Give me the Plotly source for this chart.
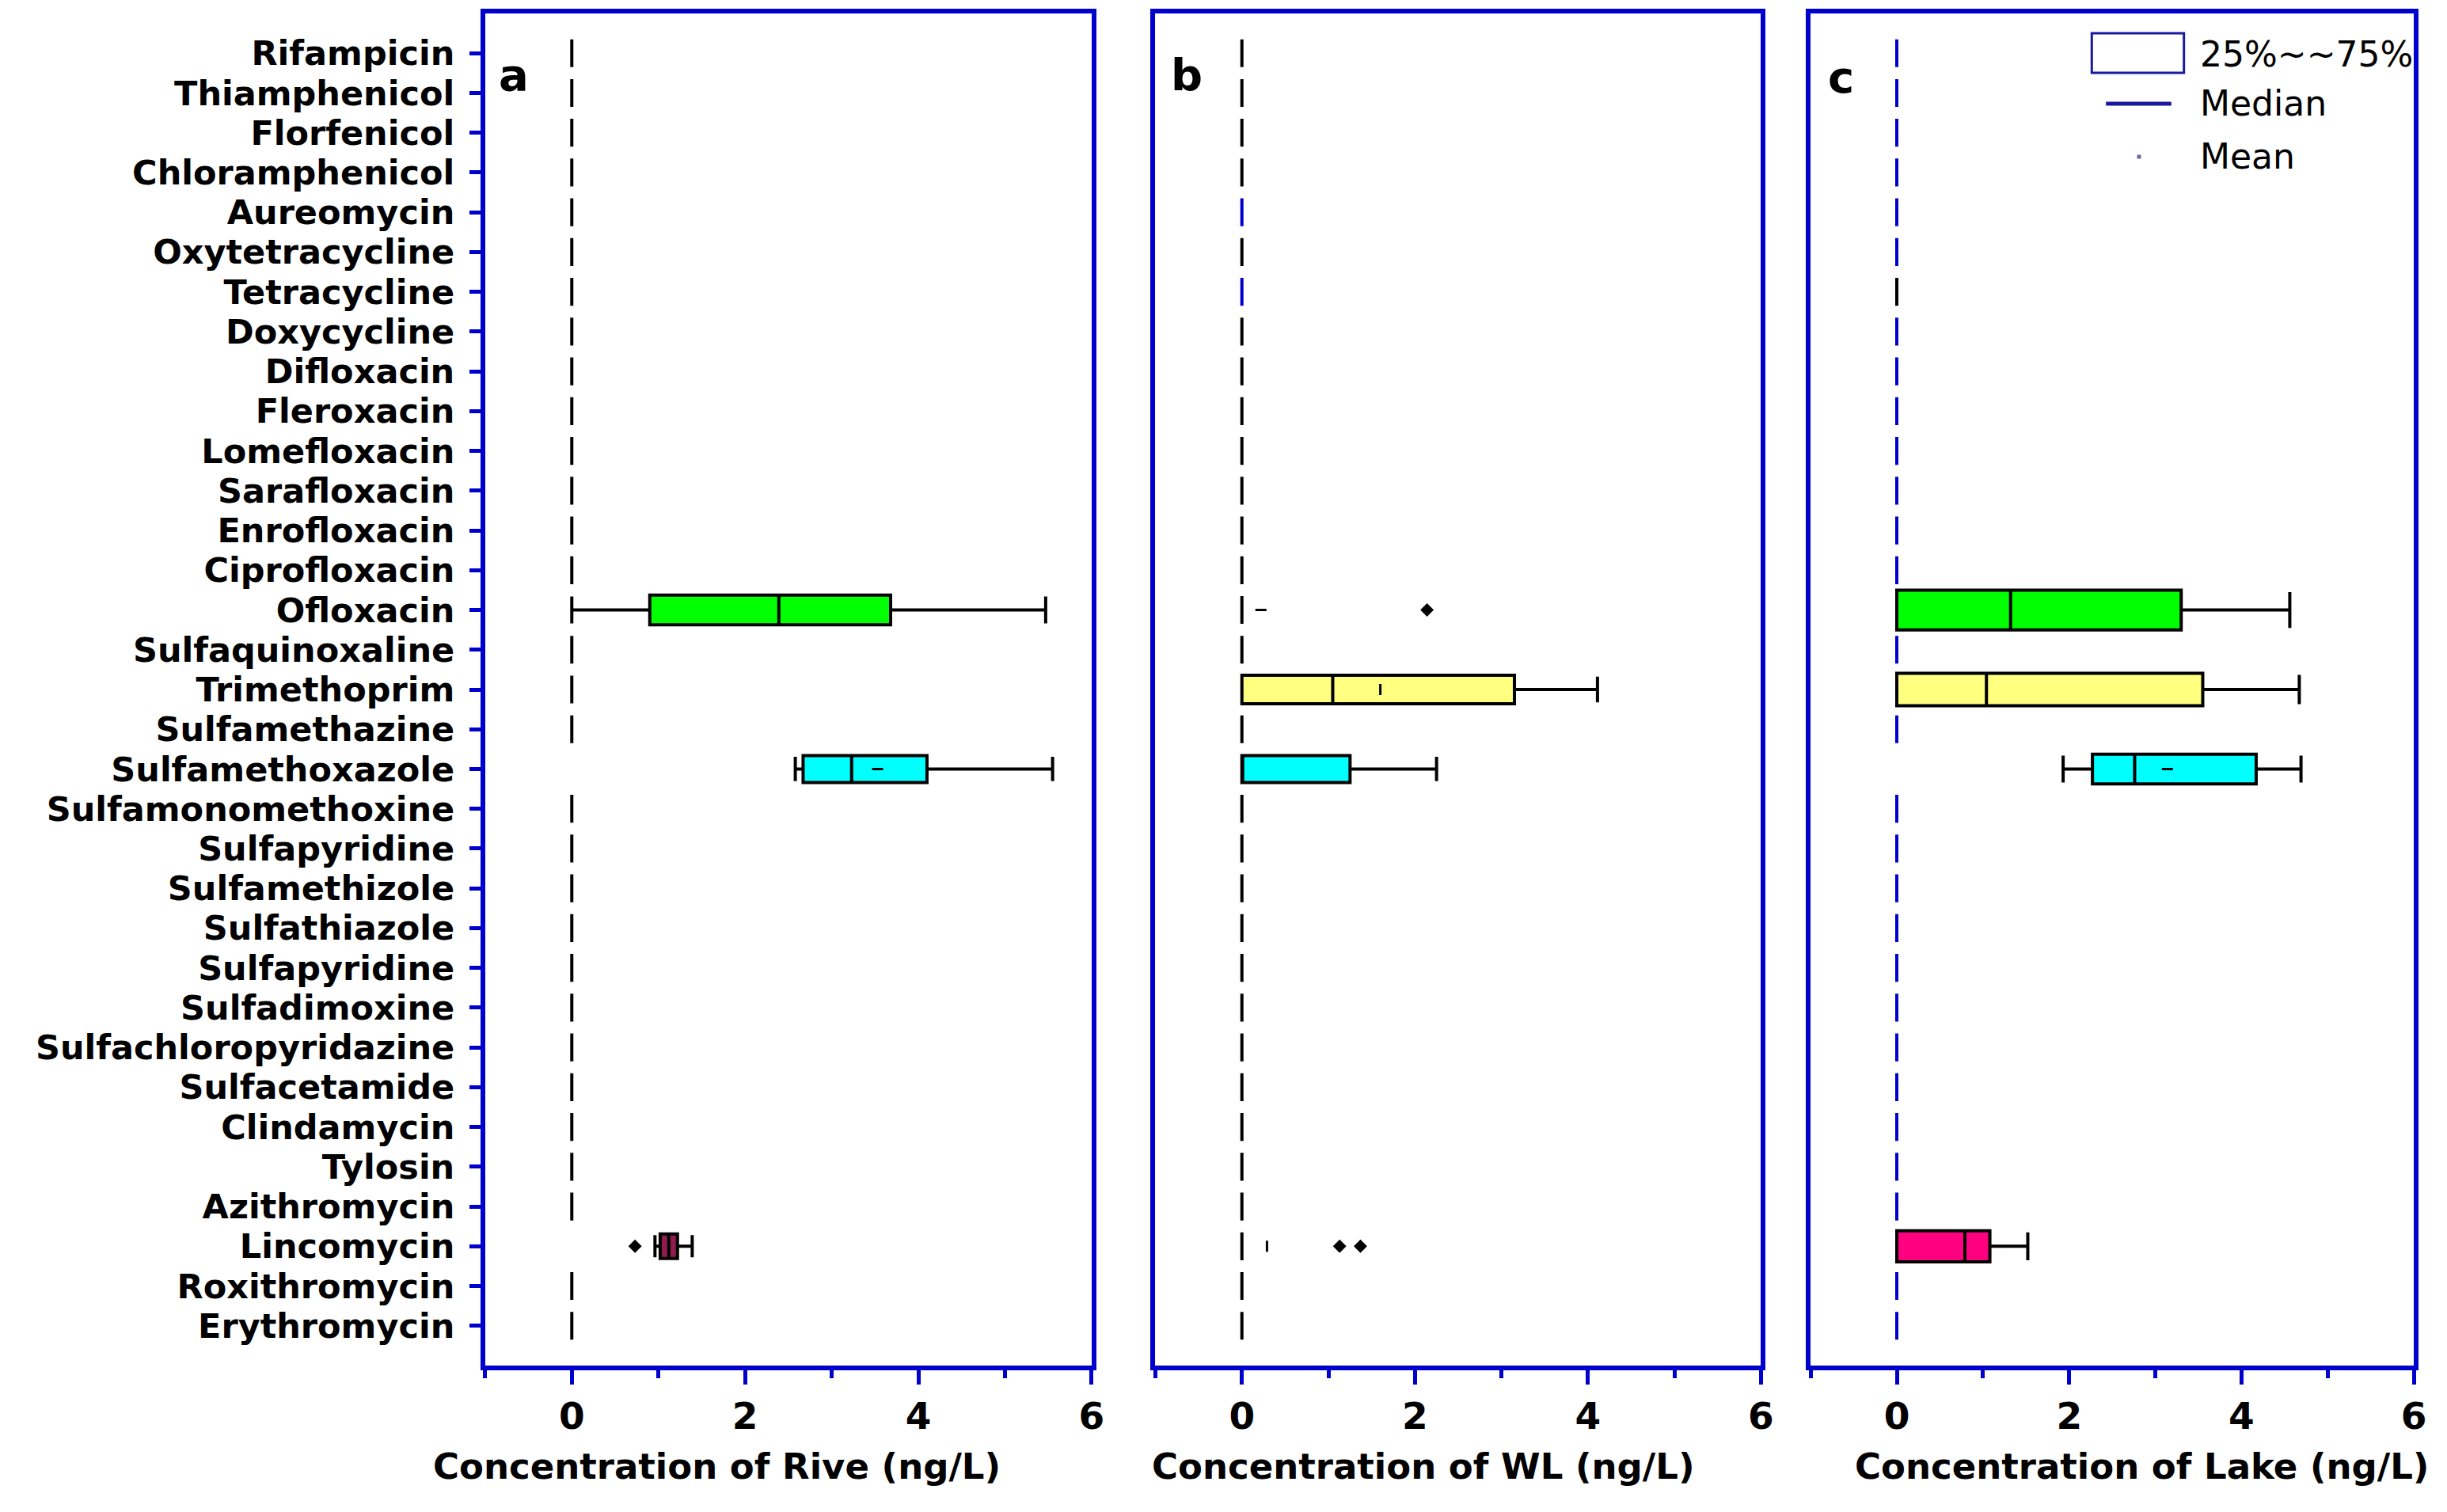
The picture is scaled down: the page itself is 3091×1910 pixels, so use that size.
import plotly.graph_objects as go

# ---- data (ng/L) ----
drugs = ["Rifampicin", "Thiamphenicol", "Florfenicol", "Chloramphenicol", "Aureomycin",
         "Oxytetracycline", "Tetracycline", "Doxycycline", "Difloxacin", "Fleroxacin",
         "Lomefloxacin", "Sarafloxacin", "Enrofloxacin", "Ciprofloxacin", "Ofloxacin",
         "Sulfaquinoxaline", "Trimethoprim", "Sulfamethazine", "Sulfamethoxazole",
         "Sulfamonomethoxine", "Sulfapyridine", "Sulfamethizole", "Sulfathiazole",
         "Sulfapyridine", "Sulfadimoxine", "Sulfachloropyridazine", "Sulfacetamide",
         "Clindamycin", "Tylosin", "Azithromycin", "Lincomycin", "Roxithromycin",
         "Erythromycin"]

# river
river_drugs = ["Ofloxacin", "Sulfamethoxazole", "Lincomycin"]
river_low = [0.0, 2.58, 0.96]
river_q1 = [0.90, 2.67, 1.02]
river_med = [2.39, 3.23, 1.12]
river_q3 = [3.68, 4.10, 1.22]
river_high = [5.47, 5.55, 1.39]
river_mean_drugs = ["Sulfamethoxazole"]
river_mean = [3.53]
river_out_drugs = ["Lincomycin"]
river_out = [0.73]

# WL
wl_drugs = ["Trimethoprim", "Sulfamethoxazole"]
wl_low = [0.0, 0.0]
wl_q1 = [0.0, 0.0]
wl_med = [1.05, 0.0]
wl_q3 = [3.15, 1.25]
wl_high = [4.11, 2.25]
wl_mean_drugs = ["Ofloxacin", "Trimethoprim", "Lincomycin"]
wl_mean = [0.22, 1.60, 0.29]
wl_out_drugs = ["Ofloxacin", "Lincomycin", "Lincomycin"]
wl_out = [2.14, 1.13, 1.37]

# Lake
lake_drugs = ["Ofloxacin", "Trimethoprim", "Sulfamethoxazole", "Lincomycin"]
lake_low = [0.0, 0.0, 1.93, 0.0]
lake_q1 = [0.0, 0.0, 2.27, 0.0]
lake_med = [1.32, 1.04, 2.76, 0.79]
lake_q3 = [3.30, 3.55, 4.17, 1.08]
lake_high = [4.56, 4.67, 4.69, 1.52]
lake_mean_drugs = ["Sulfamethoxazole"]
lake_mean = [3.14]

x_titles = ["Concentration of Rive (ng/L)", "Concentration of WL (ng/L)",
            "Concentration of Lake (ng/L)"]
panel_tags = ["a", "b", "c"]

# ---- styles ----
BLUE = "#0000CC"
FONT = "DejaVu Sans, sans-serif"
fills = {
    0: ["#00FF00", "#00FFFF", "#8E1D4E"],
    1: ["#FFFF80", "#00FFFF"],
    2: ["#00FF00", "#FFFF80", "#00FFFF", "#FF0080"],
}
widths = {0: [0.75, 0.68, 0.62], 1: [0.72, 0.68], 2: [1.0, 0.82, 0.75, 0.78]}
zero_blue = {0: [], 1: ["Aureomycin", "Tetracycline"],
             2: [d for d in drugs if d != "Tetracycline"]}
mean_sym = {0: ["line-ew"], 1: ["line-ew", "line-ns", "line-ns"], 2: ["line-ew"]}

panels = [
    (river_drugs, river_low, river_q1, river_med, river_q3, river_high,
     river_mean_drugs, river_mean, river_out_drugs, river_out),
    (wl_drugs, wl_low, wl_q1, wl_med, wl_q3, wl_high,
     wl_mean_drugs, wl_mean, wl_out_drugs, wl_out),
    (lake_drugs, lake_low, lake_q1, lake_med, lake_q3, lake_high,
     lake_mean_drugs, lake_mean, [], []),
]

W, H = 3091, 1910
OX, OY = 4, 9          # page offset compensation


def px(x):
    return (x - OX) / W


def py(y):
    return 1 - (y - OY) / H


x_dom = [(612, 1382), (1463, 2232), (2295, 3061)]
y_top, y_bot = 18, 1726

fig = go.Figure()

for p, (names, lo, q1, med, q3, hi, mnames, mvals, onames, ovals) in enumerate(panels):
    xa = "x" if p == 0 else f"x{p + 1}"
    ya = "y" if p == 0 else f"y{p + 1}"

    # undetected compounds: degenerate boxes at zero
    zero_idx = [i for i, d in enumerate(drugs) if d not in names]
    for colour, idx in [
        ("black", [i for i in zero_idx if drugs[i] not in zero_blue[p]]),
        (BLUE, [i for i in zero_idx if drugs[i] in zero_blue[p]]),
    ]:
        if not idx:
            continue
        fig.add_trace(go.Box(
            y=idx, q1=[0] * len(idx), median=[0] * len(idx), q3=[0] * len(idx),
            lowerfence=[0] * len(idx), upperfence=[0] * len(idx),
            orientation="h", width=0.7, line=dict(color=colour, width=4),
            fillcolor="rgba(0,0,0,0)", boxpoints=False, whiskerwidth=0,
            xaxis=xa, yaxis=ya, hoverinfo="skip"))

    # detected compounds
    for k, d in enumerate(names):
        fig.add_trace(go.Box(
            y=[drugs.index(d)], q1=[q1[k]], median=[med[k]], q3=[q3[k]],
            lowerfence=[lo[k]], upperfence=[hi[k]],
            orientation="h", width=widths[p][k], whiskerwidth=0.9,
            fillcolor=fills[p][k], line=dict(color="black", width=4),
            boxpoints=False, xaxis=xa, yaxis=ya))

    if mnames:
        fig.add_trace(go.Scatter(
            x=mvals, y=[drugs.index(d) for d in mnames], mode="markers",
            marker=dict(symbol=mean_sym[p], size=10, color="black",
                        line=dict(color="black", width=3)),
            xaxis=xa, yaxis=ya))
    if onames:
        fig.add_trace(go.Scatter(
            x=ovals, y=[drugs.index(d) for d in onames], mode="markers",
            marker=dict(symbol="diamond", size=13, color="black"),
            xaxis=xa, yaxis=ya))

layout = dict(
    width=W, height=H, margin=dict(l=0, r=0, t=0, b=0),
    paper_bgcolor="white", plot_bgcolor="white", showlegend=False,
    boxmode="overlay", font=dict(family=FONT, color="black"),
)

for p in range(3):
    sfx = "" if p == 0 else str(p + 1)
    x0, x1 = x_dom[p]
    layout["xaxis" + sfx] = dict(
        domain=[px(x0), px(x1)], anchor="y" + sfx, range=[-1, 6],
        tick0=0, dtick=2, ticks="outside", ticklen=18, tickwidth=5, tickcolor=BLUE,
        minor=dict(tick0=0, dtick=1, ticks="outside", ticklen=10, tickwidth=5,
                   tickcolor=BLUE, showgrid=False),
        showline=True, linecolor=BLUE, linewidth=6, mirror=True,
        showgrid=False, zeroline=False, ticklabelstandoff=0,
        tickfont=dict(family=FONT, size=47, color="black", weight="bold"),
    )
    layout["yaxis" + sfx] = dict(
        domain=[py(y_bot), py(y_top)], anchor="x" + sfx, range=[33, -1],
        tickvals=list(range(len(drugs))), ticktext=drugs,
        showticklabels=(p == 0), ticks="outside" if p == 0 else "",
        ticklen=14, tickwidth=5, tickcolor=BLUE, ticklabelstandoff=10,
        showline=True, linecolor=BLUE, linewidth=6, mirror=True,
        showgrid=False, zeroline=False,
        tickfont=dict(family=FONT, size=43, color="black", weight="bold"),
    )

fig.update_layout(**layout)

# axis titles and panel tags
title_cx = [906, 1803, 2716]
tag_xy = [(648, 95), (1503, 95), (2334, 99)]
for p in range(3):
    fig.add_annotation(x=px(title_cx[p]), y=py(1853), xref="paper", yref="paper",
                       text=x_titles[p], showarrow=False, xanchor="center", yanchor="middle",
                       font=dict(family=FONT, size=45, color="black", weight="bold"))
    fig.add_annotation(x=px(tag_xy[p][0]), y=py(tag_xy[p][1]), xref="paper", yref="paper",
                       text=panel_tags[p], showarrow=False, xanchor="center", yanchor="middle",
                       font=dict(family=FONT, size=56, color="black", weight="bold"))

# legend (drawn by hand, top right of panel c)
fig.add_shape(type="rect", xref="paper", yref="paper",
              x0=px(2652), x1=px(2769), y0=py(93), y1=py(43),
              line=dict(color="#1A1AA0", width=3), fillcolor="white")
fig.add_shape(type="line", xref="paper", yref="paper",
              x0=px(2670), x1=px(2753), y0=py(132), y1=py(132),
              line=dict(color="#1A1AA0", width=5))
fig.add_shape(type="rect", xref="paper", yref="paper",
              x0=px(2710), x1=px(2714), y0=py(201), y1=py(197),
              line=dict(color="#6666AA", width=1), fillcolor="#6666AA")
for txt, yy in [("25%~~75%", 69), ("Median", 132), ("Mean", 198)]:
    fig.add_annotation(x=px(2787), y=py(yy), xref="paper", yref="paper",
                       text=txt, showarrow=False, xanchor="left", yanchor="middle",
                       font=dict(family=FONT, size=44, color="black"))

fig.write_html("out.html")
